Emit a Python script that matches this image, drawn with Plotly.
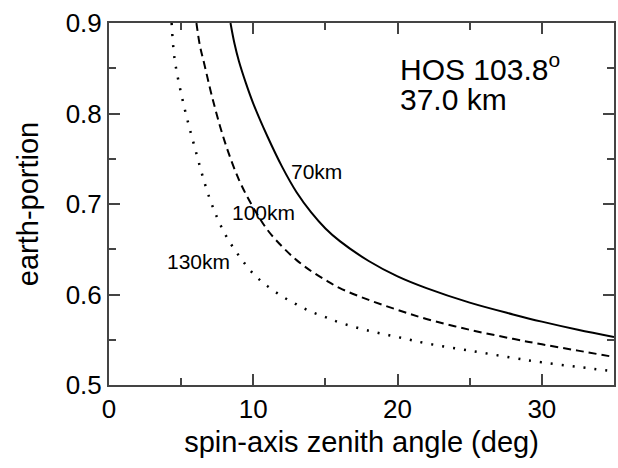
import plotly.graph_objects as go

# 70 km curve (solid)
x70 = [8.42, 8.7, 9.0, 9.5, 10.0, 11.0, 12.0, 13.0, 14.0, 15.0, 16.0, 18.0, 20.0, 22.0, 25.0, 28.0, 30.0, 32.5, 35.0]
y70 = [0.900, 0.877, 0.858, 0.833, 0.811, 0.774, 0.741, 0.713, 0.691, 0.673, 0.659, 0.637, 0.620, 0.607, 0.591, 0.578, 0.570, 0.561, 0.553]

# 100 km curve (dashed)
x100 = [6.06, 6.3, 6.6, 7.2, 8.0, 9.0, 10.0, 11.0, 12.0, 13.0, 14.0, 15.0, 16.0, 18.0, 20.0, 22.0, 25.0, 28.0, 30.0, 32.5, 35.0]
y100 = [0.900, 0.875, 0.855, 0.815, 0.770, 0.727, 0.696, 0.671, 0.653, 0.638, 0.626, 0.616, 0.607, 0.594, 0.583, 0.573, 0.561, 0.551, 0.545, 0.538, 0.531]

# 130 km curve (dotted)
x130 = [4.34, 4.55, 5.1, 5.9, 7.0, 8.0, 9.0, 10.0, 11.0, 12.0, 13.0, 14.0, 15.0, 16.0, 18.0, 20.0, 22.0, 25.0, 28.0, 30.0, 32.5, 35.0]
y130 = [0.900, 0.860, 0.815, 0.765, 0.705, 0.668, 0.643, 0.623, 0.609, 0.598, 0.589, 0.581, 0.575, 0.569, 0.560, 0.553, 0.546, 0.538, 0.530, 0.525, 0.520, 0.515]

curve_labels = ["70km", "100km", "130km"]
label_x = [14.4, 10.7, 6.2]
label_y = [0.736, 0.691, 0.636]

FONT = "Liberation Sans, Arial, Helvetica, sans-serif"

fig = go.Figure()
fig.add_trace(go.Scatter(x=x70, y=y70, mode="lines", line=dict(color="black", width=2, shape="spline"), showlegend=False))
fig.add_trace(go.Scatter(x=x100, y=y100, mode="lines", line=dict(color="black", width=2, dash="8px,5px", shape="spline"), showlegend=False))
fig.add_trace(go.Scatter(x=x130, y=y130, mode="lines", line=dict(color="black", width=2.5, dash="2px,9px", shape="spline"), showlegend=False))

for t, lx, ly in zip(curve_labels, label_x, label_y):
    fig.add_annotation(x=lx, y=ly, text=t, showarrow=False, font=dict(size=21, color="black", family=FONT))

fig.add_annotation(x=20.0, y=0.851, text="HOS 103.8<sup>o</sup>", showarrow=False, xanchor="left",
                   font=dict(size=30, color="black", family=FONT))
fig.add_annotation(x=20.0, y=0.815, text="37.0 km", showarrow=False, xanchor="left",
                   font=dict(size=30, color="black", family=FONT))

axis_common = dict(
    showgrid=False, zeroline=False, showline=True, linecolor="#444", linewidth=2,
    mirror="ticks", ticks="inside", ticklen=11, tickwidth=1.5, tickcolor="#444",
    tickfont=dict(size=26, color="black", family=FONT),
)

fig.update_xaxes(range=[0, 35], tickvals=[0, 10, 20, 30],
                 minor=dict(tickvals=[5, 15, 25, 35], ticks="inside", ticklen=7, tickcolor="#444", tickwidth=1.5),
                 title=dict(text="spin-axis zenith angle (deg)", font=dict(size=29, color="black", family=FONT), standoff=8),
                 **axis_common)
fig.update_yaxes(range=[0.5, 0.9], tickvals=[0.5, 0.6, 0.7, 0.8, 0.9], tickformat=".1f",
                 minor=dict(tickvals=[0.55, 0.65, 0.75, 0.85], ticks="inside", ticklen=7, tickcolor="#444", tickwidth=1.5),
                 title=dict(text="earth-portion", font=dict(size=29, color="black", family=FONT), standoff=18),
                 **axis_common)

fig.update_layout(
    width=618, height=468,
    margin=dict(l=109, r=2, t=23, b=83),
    plot_bgcolor="white", paper_bgcolor="white",
)

fig.write_html("out.html")
